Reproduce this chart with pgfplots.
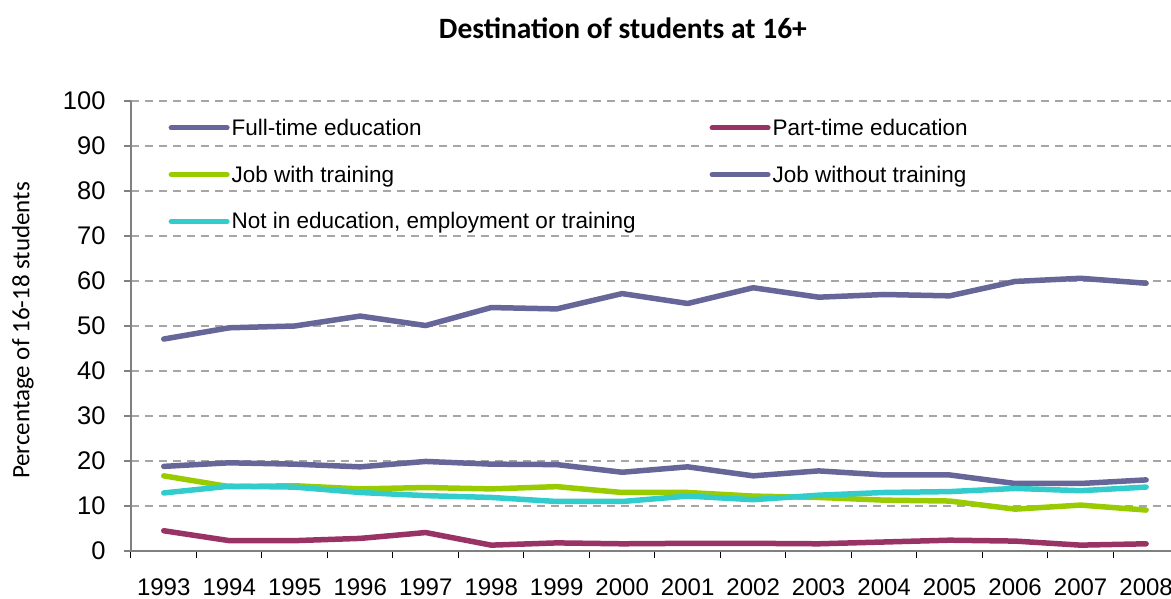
\documentclass[border=0pt]{standalone}
\usepackage{pgfplots}
\pgfplotsset{compat=1.18}
\usepackage{pgfplotstable}
\usepackage{fontspec}
\setmainfont{Liberation Sans}
\newfontfamily\calibri{Carlito}

\definecolor{ftcol}{HTML}{666699}
\definecolor{ptcol}{HTML}{993366}
\definecolor{jwtcol}{HTML}{99CC00}
\definecolor{neetcol}{HTML}{33CCCC}
\definecolor{axisgray}{HTML}{808080}
\definecolor{gridgray}{HTML}{A6A6A6}

% x = 0 is 1993
\pgfplotstableread{
x  ft   pt  jwt  jwot neet
0  47.1 4.5 16.7 18.8 12.9
1  49.6 2.3 14.3 19.6 14.4
2  50.0 2.3 14.5 19.3 14.2
3  52.2 2.8 13.8 18.7 13.0
4  50.1 4.1 14.1 19.9 12.3
5  54.1 1.3 13.8 19.3 11.9
6  53.8 1.8 14.3 19.2 11.0
7  57.2 1.6 13.0 17.5 11.0
8  55.0 1.7 13.0 18.7 12.2
9  58.5 1.7 12.2 16.7 11.4
10 56.4 1.6 11.9 17.8 12.4
11 57.0 2.0 11.3 16.9 13.0
12 56.7 2.4 11.1 16.9 13.2
13 59.9 2.2 9.3  15.0 13.9
14 60.6 1.3 10.2 15.0 13.4
15 59.5 1.6 9.1  15.8 14.2
}\dest

\begin{document}
\begin{tikzpicture}
\path[use as bounding box] (0,0) rectangle (1171pt,599pt);
\begin{axis}[
  at={(131pt,48pt)}, anchor=south west,
  width=1040pt, height=450pt, scale only axis,
  xmin=-0.5, xmax=15.38, ymin=0, ymax=100,
  axis x line=bottom, axis y line=left,
  axis line style={-, draw=axisgray, line width=1.3pt},
  xtick={0,...,15},
  xticklabels={1993,1994,1995,1996,1997,1998,1999,2000,2001,2002,2003,2004,2005,2006,2007,2008},
  minor xtick={-0.5,0.5,...,14.5},
  ytick={0,10,...,100},
  tick align=outside,
  major tick length=7pt, minor tick length=7pt,
  x tick style={draw=black, line width=1pt},
  y tick style={draw=axisgray, line width=1.3pt},
  major x tick style={draw=none},
  ymajorgrids,
  major grid style={draw=gridgray, line width=1.2pt, dash pattern=on 8pt off 6pt},
  /pgf/number format/assume math mode=true,
  xticklabel style={font=\fontsize{24}{26}\selectfont, yshift=-17pt},
  yticklabel style={font=\fontsize{25.5}{28}\selectfont, xshift=-15pt},
  title={\calibri\bfseries\fontsize{29.5}{32}\selectfont Destination of students at 16+},
  title style={at={(axis description cs:0.473,1.149)}, anchor=center},
  ylabel={\calibri\fontsize{25}{28}\selectfont Percentage of 16-18 students},
  ylabel style={at={(axis description cs:-0.104,0.49)}, anchor=center, rotate=0},
  legend columns=2,
  legend cell align=left,
  legend image code/.code={\draw[#1, line width=5pt, line cap=round] (0pt,0pt) -- (56pt,0pt);},
  legend style={
    at={(axis description cs:0.036,0.965)}, anchor=north west,
    draw=none, fill=none, inner sep=0pt,
    font=\fontsize{22.5}{25}\selectfont,
    row sep=25pt,
    nodes={inner sep=2pt},
    /tikz/every even column/.append style={column sep=72pt},
  },
  every axis plot/.append style={line width=5.5pt, line join=round, line cap=round},
]
\addplot[ftcol] table[x=x, y=ft] {\dest};
\addlegendentry{Full-time education}
\addplot[ptcol] table[x=x, y=pt] {\dest};
\addlegendentry{Part-time education}
\addplot[jwtcol] table[x=x, y=jwt] {\dest};
\addlegendentry{Job with training}
\addplot[ftcol] table[x=x, y=jwot] {\dest};
\addlegendentry{Job without training}
\addplot[neetcol] table[x=x, y=neet] {\dest};
\addlegendentry{Not in education, employment or training}
\end{axis}
\end{tikzpicture}
\end{document}
